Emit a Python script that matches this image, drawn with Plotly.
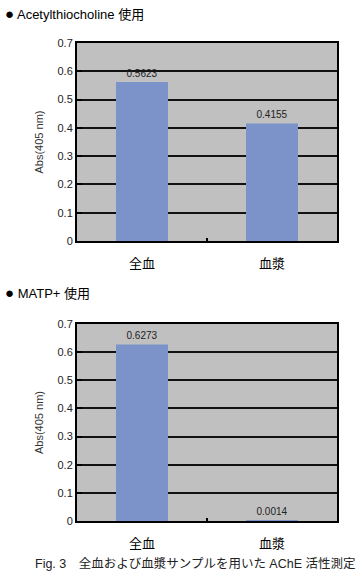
import plotly.graph_objects as go

categories = ["全血", "血漿"]
acetyl_values = [0.5623, 0.4155]
matp_values = [0.6273, 0.0014]
y_ticks = [0, 0.1, 0.2, 0.3, 0.4, 0.5, 0.6, 0.7]
y_tick_labels = ["0", "0.1", "0.2", "0.3", "0.4", "0.5", "0.6", "0.7"]
title_top = "Acetylthiocholine 使用"
title_bottom = "MATP+ 使用"
y_title = "Abs(405 nm)"
caption = "Fig. 3　全血および血漿サンプルを用いた AChE 活性測定"

FONT = "Liberation Sans, Arial, Noto Sans CJK JP"
BAR = "#7b93c9"

fig = go.Figure()
for vals, xa, ya in [(acetyl_values, "x", "y"), (matp_values, "x2", "y2")]:
    fig.add_trace(go.Bar(
        x=categories, y=vals, xaxis=xa, yaxis=ya,
        marker=dict(color=BAR, line=dict(width=0)),
        width=0.4,
        text=[f"{v:.4f}" for v in vals],
        textposition="outside",
        textfont=dict(size=10, color="#222222", family=FONT),
        cliponaxis=False,
        showlegend=False,
    ))

W, H = 360, 577
x0, x1 = 77 / W, 337 / W
top_dom = [(H - 241) / H, (H - 43) / H]
bot_dom = [(H - 521) / H, (H - 324) / H]

xaxis_common = dict(
    showline=True, linecolor="black", linewidth=2, mirror=True,
    ticks="inside", ticklen=3, tickcolor="black", tickwidth=2, tickson="boundaries",
    tickfont=dict(size=13, color="black", family="Noto Sans CJK JP"),
    ticklabelstandoff=9, showgrid=False, fixedrange=True, automargin=False,
)
yaxis_common = dict(
    range=[0, 0.7], tickmode="array", tickvals=y_ticks, ticktext=y_tick_labels,
    ticksuffix="  ",
    showline=True, linecolor="black", linewidth=2, mirror=True,
    ticks="inside", ticklen=5, tickcolor="black", tickwidth=2,
    showgrid=True, gridcolor="#111111", gridwidth=2,
    zeroline=False,
    tickfont=dict(size=11, color="#222222", family=FONT),
    title=dict(text=y_title, font=dict(size=11, color="#333333", family=FONT), standoff=12),
    fixedrange=True, automargin=False,
)

bullet = "<span style='font-size:15px'>●</span> "

fig.update_layout(
    template="none",
    width=W, height=H,
    margin=dict(l=0, r=0, t=0, b=0),
    paper_bgcolor="white",
    plot_bgcolor="#c0c0c0",
    font=dict(family=FONT),
    xaxis=dict(domain=[x0, x1], anchor="y", **xaxis_common),
    yaxis=dict(domain=top_dom, anchor="x", **yaxis_common),
    xaxis2=dict(domain=[x0, x1], anchor="y2", **xaxis_common),
    yaxis2=dict(domain=bot_dom, anchor="x2", **yaxis_common),
    annotations=[
        dict(text=bullet + title_top, x=3 / W, y=(H - 13) / H, xref="paper", yref="paper",
             xanchor="left", yanchor="middle", showarrow=False,
             font=dict(size=13, color="black", family=FONT)),
        dict(text=bullet + title_bottom, x=3 / W, y=(H - 293) / H, xref="paper", yref="paper",
             xanchor="left", yanchor="middle", showarrow=False,
             font=dict(size=13, color="black", family=FONT)),
        dict(text=caption, x=196 / W, y=(H - 563) / H, xref="paper", yref="paper",
             xanchor="center", yanchor="middle", showarrow=False,
             font=dict(size=12.5, color="#222222", family=FONT)),
    ],
)

fig.write_html("out.html", config={"displayModeBar": False},
               post_script="document.body.style.margin='0';")
